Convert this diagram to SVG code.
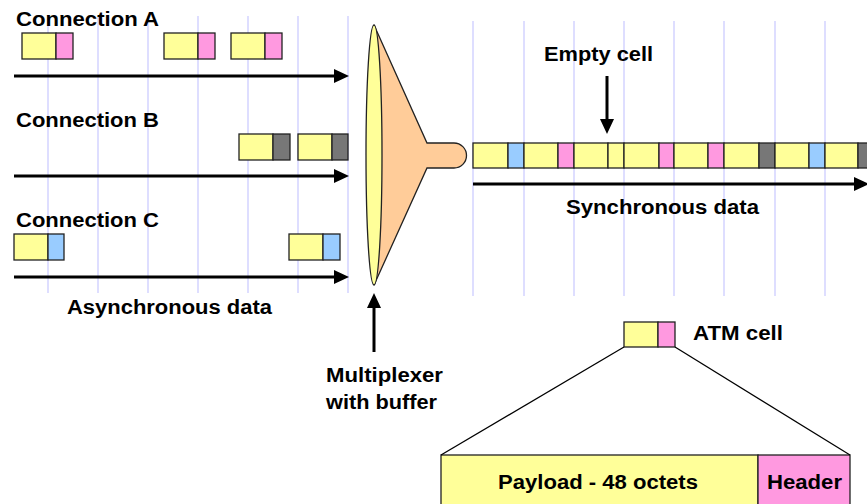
<svg xmlns="http://www.w3.org/2000/svg" width="867" height="504" viewBox="0 0 867 504">
<style>
.grid{stroke:#CCCCFF;stroke-width:1.3}
.y{fill:#FFFF99;stroke:#222;stroke-width:1.3}
.p{fill:#FF99E0;stroke:#222;stroke-width:1.3}
.b{fill:#99CCFF;stroke:#222;stroke-width:1.3}
.g{fill:#777777;stroke:#222;stroke-width:1.3}
.arr{stroke:#000;stroke-width:3;fill:none;marker-end:url(#ah)}
.thin{stroke:#000;stroke-width:1.3;fill:none}
text{font-family:"Liberation Sans",Arial,sans-serif;font-weight:bold;font-size:20px;fill:#000}
</style>
<defs>
<marker id="ah" markerUnits="userSpaceOnUse" markerWidth="16" markerHeight="16" refX="7" refY="7" orient="auto">
<path d="M0,0 L15,7 L0,14 Z" fill="#000"/>
</marker>
</defs>
<rect width="867" height="504" fill="#fff"/>
<g id="grid">
<line class="grid" x1="48" y1="16" x2="48" y2="293"/>
<line class="grid" x1="98" y1="16" x2="98" y2="293"/>
<line class="grid" x1="148" y1="16" x2="148" y2="293"/>
<line class="grid" x1="198" y1="16" x2="198" y2="293"/>
<line class="grid" x1="248" y1="16" x2="248" y2="293"/>
<line class="grid" x1="298" y1="16" x2="298" y2="293"/>
<line class="grid" x1="348" y1="16" x2="348" y2="293"/>
<line class="grid" x1="473" y1="21" x2="473" y2="296"/>
<line class="grid" x1="524" y1="21" x2="524" y2="296"/>
<line class="grid" x1="574" y1="21" x2="574" y2="296"/>
<line class="grid" x1="624" y1="21" x2="624" y2="296"/>
<line class="grid" x1="674" y1="21" x2="674" y2="296"/>
<line class="grid" x1="724" y1="21" x2="724" y2="296"/>
<line class="grid" x1="775" y1="21" x2="775" y2="296"/>
<line class="grid" x1="825" y1="21" x2="825" y2="296"/>
</g>
<g id="connA">
<text x="16" y="26" textLength="143" lengthAdjust="spacingAndGlyphs">Connection A</text>
<rect class="y" x="22" y="33" width="34" height="26"/><rect class="p" x="56" y="33" width="17" height="26"/>
<rect class="y" x="164" y="33" width="34" height="26"/><rect class="p" x="198" y="33" width="17" height="26"/>
<rect class="y" x="231" y="33" width="34" height="26"/><rect class="p" x="265" y="33" width="17" height="26"/>
</g>
<g id="connB">
<text x="16" y="127" textLength="143" lengthAdjust="spacingAndGlyphs">Connection B</text>
<rect class="y" x="239" y="134" width="34" height="26"/><rect class="g" x="273" y="134" width="17" height="26"/>
<rect class="y" x="298" y="134" width="34" height="26"/><rect class="g" x="332" y="134" width="16" height="26"/>
</g>
<g id="connC">
<text x="16" y="227" textLength="143" lengthAdjust="spacingAndGlyphs">Connection C</text>
<rect class="y" x="14" y="234" width="34" height="26"/><rect class="b" x="48" y="234" width="16" height="26"/>
<rect class="y" x="289" y="234" width="34" height="26"/><rect class="b" x="323" y="234" width="17" height="26"/>
</g>
<g id="async-label">
<text x="67" y="314" textLength="205" lengthAdjust="spacingAndGlyphs">Asynchronous data</text>
</g>
<g id="multiplexer">
<path d="M374,25 L427,143 L454,143 A12.5,12.5 0 0 1 454,168 L427,168 L374,285 Z" fill="#FFCC99" stroke="#222" stroke-width="1.3"/>
<ellipse cx="374" cy="155" rx="8" ry="130" fill="#FFFF99" stroke="#222" stroke-width="1.3"/>
<text x="326" y="382" textLength="117" lengthAdjust="spacingAndGlyphs">Multiplexer</text>
<text x="326" y="409" textLength="111" lengthAdjust="spacingAndGlyphs">with buffer</text>
</g>
<g id="sync-stream">
<rect class="y" x="473" y="143" width="35" height="25"/><rect class="b" x="508" y="143" width="16" height="25"/>
<rect class="y" x="524" y="143" width="34" height="25"/><rect class="p" x="558" y="143" width="16" height="25"/>
<rect class="y" x="574" y="143" width="34" height="25"/><rect class="y" x="608" y="143" width="16" height="25"/>
<rect class="y" x="624" y="143" width="35" height="25"/><rect class="p" x="659" y="143" width="15" height="25"/>
<rect class="y" x="674" y="143" width="34" height="25"/><rect class="p" x="708" y="143" width="16" height="25"/>
<rect class="y" x="724" y="143" width="35" height="25"/><rect class="g" x="759" y="143" width="16" height="25"/>
<rect class="y" x="775" y="143" width="34" height="25"/><rect class="b" x="809" y="143" width="16" height="25"/>
<rect class="y" x="825" y="143" width="33" height="25"/><rect class="g" x="858" y="143" width="16" height="25"/>
<text x="566" y="214" textLength="193" lengthAdjust="spacingAndGlyphs">Synchronous data</text>
</g>
<g id="empty-cell">
<text x="544" y="61" textLength="109" lengthAdjust="spacingAndGlyphs">Empty cell</text>
</g>
<g id="atm-cell">
<rect class="y" x="624" y="322" width="34" height="25"/><rect class="p" x="658" y="322" width="17" height="25"/>
<text x="693" y="340" textLength="90" lengthAdjust="spacingAndGlyphs">ATM cell</text>
</g>
<g id="cell-detail">
<rect class="y" x="441" y="455" width="317" height="60"/><rect class="p" x="758" y="455" width="92" height="60"/>
<text x="498" y="489" textLength="200" lengthAdjust="spacingAndGlyphs">Payload - 48 octets</text>
<text x="767" y="489" textLength="75" lengthAdjust="spacingAndGlyphs">Header</text>
</g>
<g id="connectors">
<line class="arr" x1="14" y1="76" x2="341" y2="76"/>
<line class="arr" x1="14" y1="176" x2="341" y2="176"/>
<line class="arr" x1="14" y1="277" x2="341" y2="277"/>
<line class="arr" x1="473" y1="184" x2="861" y2="184"/>
<line class="arr" x1="607" y1="76" x2="607" y2="126"/>
<line class="arr" x1="374" y1="352" x2="374" y2="301"/>
<line class="thin" x1="624" y1="347" x2="441" y2="455"/>
<line class="thin" x1="675" y1="347" x2="850" y2="455"/>
</g>
</svg>
